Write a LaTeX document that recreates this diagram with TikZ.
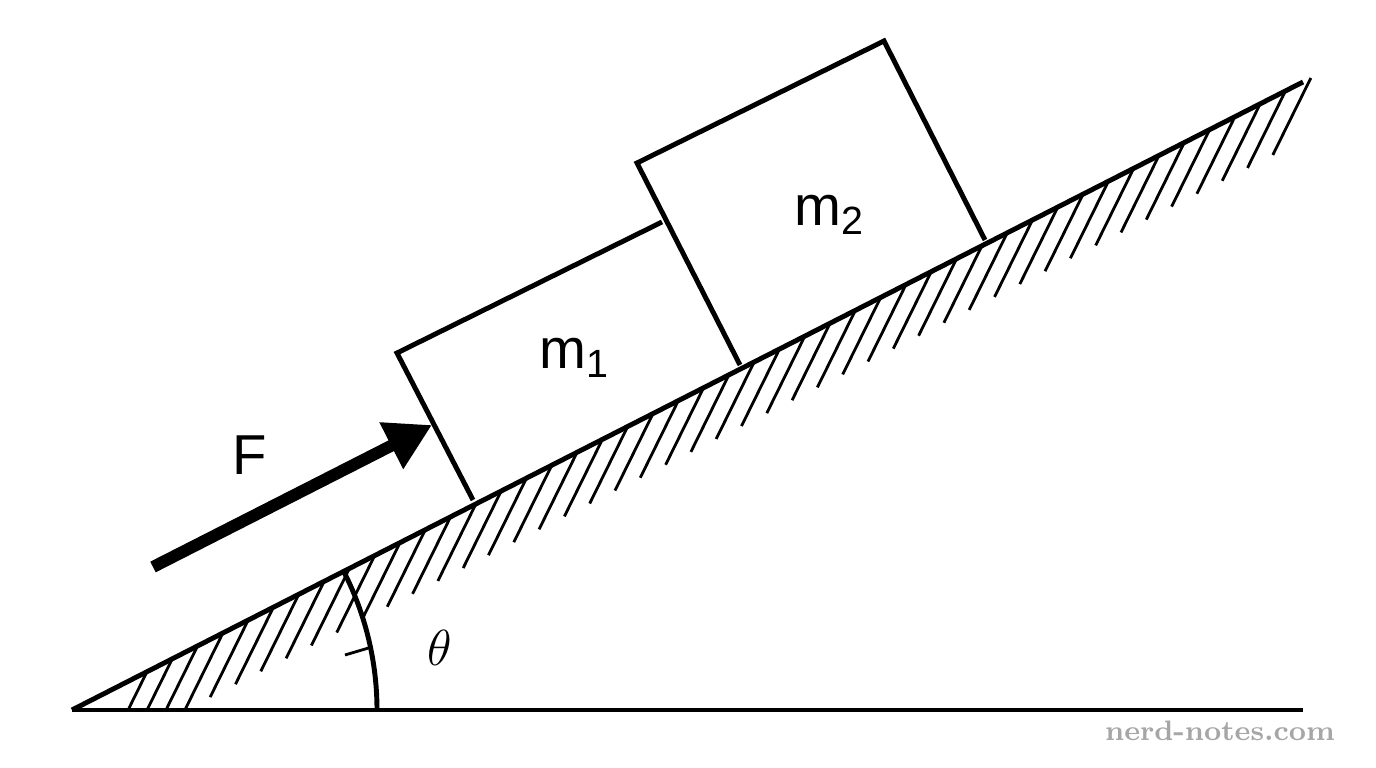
\documentclass[tikz,border=0pt]{standalone}
\usepackage{fontspec}
\setsansfont{Liberation Sans}
\usetikzlibrary{arrows.meta,calc}
\begin{document}
\begin{tikzpicture}[x=0.01cm,y=-0.01cm,
  edge/.style={line width=1.4pt},
  hatch/.style={line width=0.8pt},
  label/.style={font=\sffamily\fontsize{16}{16}\selectfont}]
  \useasboundingbox (0,0) rectangle (1376,768);
  % incline and ground
  \coordinate (O) at (72,710);
  \coordinate (T) at (1303,82);
  \coordinate (G) at (1303,710);
  \begin{scope}
    \clip (0,710) rectangle (1376,0);
    \foreach \i in {0,...,46} {
      \draw[hatch] ($(O)!{(75+\i*25.3)/1231}!(T)$) -- ++(-38,77);
    }
  \end{scope}
  \draw[edge] (O) -- (T);
  \draw[edge] (O) -- (G);
  % angle
  \draw[edge] (377,710) arc (0:-27:305);
  \draw[hatch] (345,655) -- (372,647);
  \node[font=\fontsize{14}{14}\selectfont] (theta) at (440,648) {$\mathrm{\theta}$};
  % blocks
  \draw[edge] (473,500) -- (397,353) -- (662,222);
  \draw[edge] (740,365) -- (637,163) -- (884,41) -- (985,240);
  % labels
  \node[label] (m1) at (575,358) {m\textsubscript{1}};
  \node[label] (m2) at (830,215) {m\textsubscript{2}};
  \coordinate (Fs) at (153,567);
  \coordinate (Fe) at (432,425);
  \draw[line width=3.4pt,-{Triangle[length=13pt,width=14pt]}] (Fs) -- (Fe);
  \node[label] (F) at (250,455) {F};
  \node[text=black!35,font=\fontsize{8}{8}\selectfont\bfseries] (wm) at (1220,731) {nerd-notes.com};
\end{tikzpicture}
\end{document}
